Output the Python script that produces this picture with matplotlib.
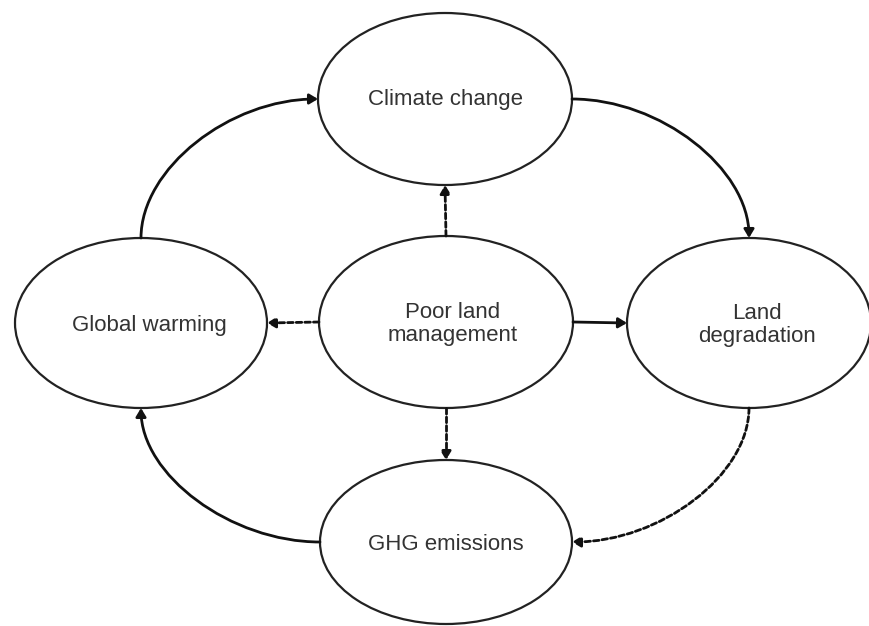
import matplotlib
matplotlib.use("Agg")
import matplotlib.pyplot as plt
from matplotlib.patches import Ellipse, FancyArrowPatch
from matplotlib.path import Path

# nodes of the diagram
node_names = ["climate", "warming", "center", "degradation", "ghg"]
node_labels = ["Climate change", "Global warming", "Poor land\nmanagement",
               "Land\ndegradation", "GHG emissions"]

# edges: (from, to, dashed)
edge_from = ["warming", "climate", "degradation", "ghg",
             "center", "center", "center", "center"]
edge_to = ["climate", "degradation", "ghg", "warming",
           "climate", "warming", "degradation", "ghg"]
edge_dashed = [False, False, True, False, True, True, False, True]

# layout in pixel space (x to the right, y downwards)
W, H = 869, 626
centers = {
    "climate": (445, 99),
    "warming": (141, 323),
    "center": (446, 322),
    "degradation": (749, 323),
    "ghg": (446, 542),
}
radii = {
    "climate": (127, 86),
    "warming": (126, 85),
    "center": (127, 86),
    "degradation": (122, 85),
    "ghg": (126, 82),
}
text_offset = {"climate": (0, 0), "warming": (8, 2), "center": (7, 2),
               "degradation": (8, 2), "ghg": (0, 3)}


def anchor(name, side):
    cx, cy = centers[name]
    rx, ry = radii[name]
    return {"top": (cx, cy - ry), "bottom": (cx, cy + ry),
            "left": (cx - rx, cy), "right": (cx + rx, cy)}[side]


# which side of each node an edge leaves/enters
sides = {
    ("warming", "climate"): ("top", "left"),
    ("climate", "degradation"): ("right", "top"),
    ("degradation", "ghg"): ("bottom", "right"),
    ("ghg", "warming"): ("left", "bottom"),
    ("center", "climate"): ("top", "bottom"),
    ("center", "warming"): ("left", "right"),
    ("center", "degradation"): ("right", "left"),
    ("center", "ghg"): ("bottom", "top"),
}

fig = plt.figure(figsize=(W / 100, H / 100), dpi=100)
ax = fig.add_axes([0, 0, 1, 1])
ax.set_xlim(0, W)
ax.set_ylim(H, 0)
ax.axis("off")

for name, label in zip(node_names, node_labels):
    cx, cy = centers[name]
    rx, ry = radii[name]
    ax.add_patch(Ellipse((cx, cy), 2 * rx, 2 * ry, facecolor="white",
                         edgecolor="#222222", linewidth=1.6, zorder=2))
    dx, dy = text_offset[name]
    ax.text(cx + dx, cy + dy, label, ha="center", va="center",
            fontsize=16, color="#333333", family=["Liberation Sans", "DejaVu Sans"],
            linespacing=1.15, zorder=3)

k = 0.5
for src, dst, dashed in zip(edge_from, edge_to, edge_dashed):
    s_side, d_side = sides[(src, dst)]
    p0 = anchor(src, s_side)
    p3 = anchor(dst, d_side)
    if s_side in ("top", "bottom") and d_side in ("left", "right") and src != "center":
        # leave vertically, arrive horizontally
        c1 = (p0[0], p0[1] + k * (p3[1] - p0[1]))
        c2 = (p3[0] - k * (p3[0] - p0[0]), p3[1])
        path = Path([p0, c1, c2, p3], [Path.MOVETO, Path.CURVE4, Path.CURVE4, Path.CURVE4])
    elif s_side in ("left", "right") and d_side in ("top", "bottom") and src != "center":
        # leave horizontally, arrive vertically
        c1 = (p0[0] + k * (p3[0] - p0[0]), p0[1])
        c2 = (p3[0], p3[1] - k * (p3[1] - p0[1]))
        path = Path([p0, c1, c2, p3], [Path.MOVETO, Path.CURVE4, Path.CURVE4, Path.CURVE4])
    else:
        path = Path([p0, p3], [Path.MOVETO, Path.LINETO])
    arr = FancyArrowPatch(path=path, arrowstyle="-|>,head_length=5,head_width=3",
                          color="#111111", linewidth=2.0,
                          linestyle=(0, (2.0, 1.1)) if dashed else "-",
                          shrinkA=0, shrinkB=0, zorder=4)
    ax.add_patch(arr)

fig.savefig("out.png", dpi=100, facecolor="white")
